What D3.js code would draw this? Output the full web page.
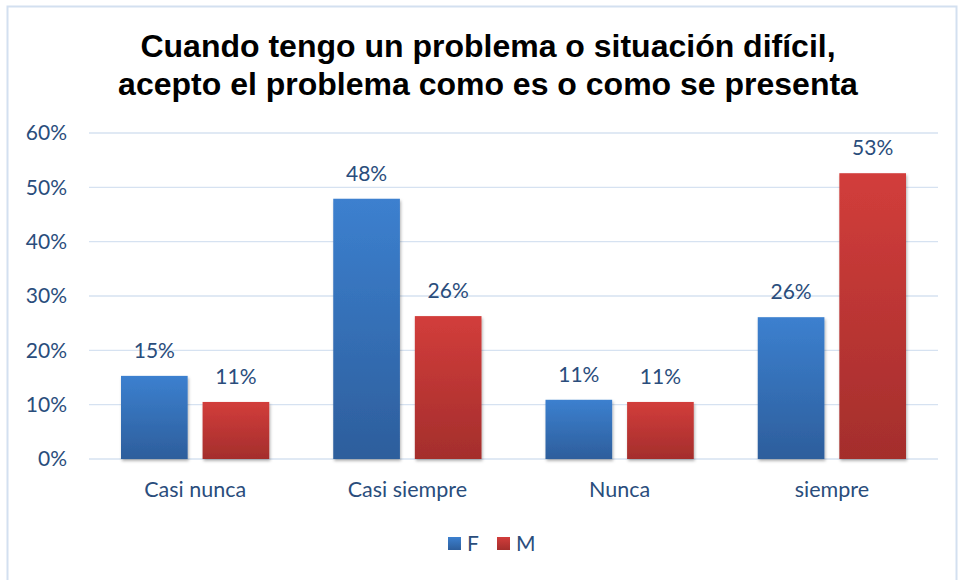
<!DOCTYPE html>
<html>
<head>
<meta charset="utf-8">
<script src="https://cdn.jsdelivr.net/npm/d3@7"></script>
<style>
  body { margin: 0; background: #fff; }
  svg { display: block; }
</style>
</head>
<body>
<svg id="chart"></svg>
<script>
// data
const categories = ['Casi nunca', 'Casi siempre', 'Nunca', 'siempre'];
const series = ['F', 'M'];
const valuesF = [0.153, 0.479, 0.109, 0.261];
const valuesM = [0.105, 0.263, 0.105, 0.526];
const yTicks = [0, 0.1, 0.2, 0.3, 0.4, 0.5, 0.6];
const titleLines = ['Cuando tengo un problema o situación difícil,', 'acepto el problema como es o como se presenta'];

const W = 960, H = 580;
const margin = {top: 133, right: 22, bottom: 121, left: 89};
const width = W - margin.left - margin.right;
const height = H - margin.top - margin.bottom;
const textColor = '#2a4d7c';
const labelFont = 'Lato, "Open Sans", sans-serif';

const svg = d3.select('#chart').attr('width', W).attr('height', H);

// gradients + shadow
const defs = svg.append('defs');
const grads = {F: ['#3c80cf', '#2d5e9c'], M: ['#d23d3b', '#a42e2c']};
series.forEach(s => {
  const g = defs.append('linearGradient').attr('id', 'grad' + s)
    .attr('x1', 0).attr('y1', 0).attr('x2', 0).attr('y2', 1);
  g.append('stop').attr('offset', '0%').attr('stop-color', grads[s][0]);
  g.append('stop').attr('offset', '100%').attr('stop-color', grads[s][1]);
});
const sh = defs.append('filter').attr('id', 'shadow')
  .attr('x', '-10%').attr('y', '-10%').attr('width', '130%').attr('height', '130%');
sh.append('feDropShadow').attr('dx', 1).attr('dy', 2).attr('stdDeviation', 1.5)
  .attr('flood-color', '#000').attr('flood-opacity', 0.3);

// outer frame
svg.append('rect')
  .attr('x', 7.5).attr('y', 6.5).attr('width', 949).attr('height', 590)
  .attr('fill', 'none').attr('stroke', '#d3e0f0').attr('stroke-width', 2);

// title
svg.append('text')
  .attr('x', 488).attr('y', 57)
  .attr('text-anchor', 'middle')
  .style('font-family', '"Liberation Sans", Arial, sans-serif')
  .style('font-weight', 'bold')
  .style('font-size', '32px')
  .attr('fill', '#000')
  .selectAll('tspan').data(titleLines).join('tspan')
  .attr('x', 488).attr('dy', (d, i) => i === 0 ? 0 : 38)
  .text(d => d);

const chart = svg.append('g').attr('transform', `translate(${margin.left},${margin.top})`);

const x0 = d3.scaleBand().domain(categories).range([0, width]).padding(0);
const x1 = d3.scaleBand().domain(series)
  .range([32, x0.bandwidth() - 32]).paddingInner(0.183).paddingOuter(0);
const y = d3.scaleLinear().domain([0, 0.6]).range([height, 0]);

// gridlines
chart.append('g').selectAll('line').data(yTicks).join('line')
  .attr('x1', 0).attr('x2', width)
  .attr('y1', d => y(d)).attr('y2', d => y(d))
  .attr('stroke', '#d6e2f1').attr('stroke-width', 1.3);

// y axis labels
const yAxis = d3.axisLeft(y).tickValues(yTicks).tickFormat(d3.format('.0%')).tickSize(0).tickPadding(22);
const yG = chart.append('g').call(yAxis);
yG.select('.domain').remove();
yG.selectAll('text')
  .style('font-family', labelFont)
  .style('font-size', '21px')
  .attr('fill', textColor);

// x axis labels
const xAxis = d3.axisBottom(x0).tickSize(0).tickPadding(23);
const xG = chart.append('g').attr('transform', `translate(0,${height})`).call(xAxis);
xG.select('.domain').remove();
xG.selectAll('text')
  .style('font-family', labelFont)
  .style('font-size', '21.5px')
  .attr('fill', textColor);

// bars
const rows = categories.map((c, i) => ({cat: c, F: valuesF[i], M: valuesM[i]}));
const groups = chart.selectAll('.grp').data(rows).join('g')
  .attr('class', 'grp')
  .attr('transform', d => `translate(${x0(d.cat)},0)`);

const items = groups.selectAll('.item')
  .data(d => series.map(s => ({s: s, v: d[s]})))
  .join('g').attr('class', 'item');

items.append('rect')
  .attr('x', d => x1(d.s))
  .attr('width', x1.bandwidth())
  .attr('y', d => y(d.v))
  .attr('height', d => height - y(d.v))
  .attr('fill', d => `url(#grad${d.s})`)
  .attr('filter', 'url(#shadow)');

items.append('text')
  .attr('x', d => x1(d.s) + x1.bandwidth() / 2)
  .attr('y', d => y(d.v) - 18)
  .attr('text-anchor', 'middle')
  .style('font-family', labelFont)
  .style('font-size', '21px')
  .attr('fill', textColor)
  .text(d => d3.format('.0%')(d.v));

// legend
const legendX = [448, 497];
const legend = svg.append('g').selectAll('g').data(series).join('g')
  .attr('transform', (d, i) => `translate(${legendX[i]},537)`);
legend.append('rect')
  .attr('width', 13).attr('height', 13)
  .attr('fill', d => `url(#grad${d})`);
legend.append('text')
  .attr('x', 19).attr('y', 14)
  .style('font-family', labelFont)
  .style('font-size', '21px')
  .attr('fill', textColor)
  .text(d => d);
</script>
</body>
</html>
